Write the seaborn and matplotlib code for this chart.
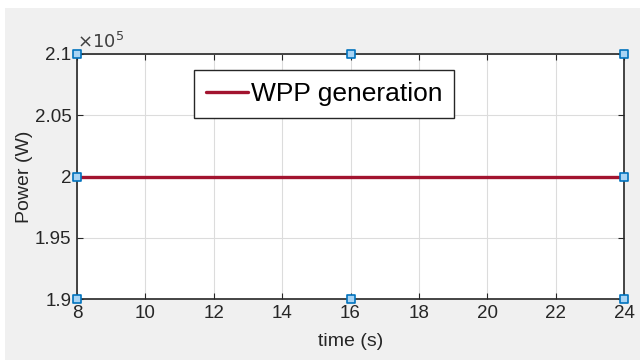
import matplotlib
matplotlib.use("Agg")
import matplotlib.pyplot as plt
import seaborn as sns
import pandas as pd
from matplotlib.ticker import FuncFormatter

time_s = [8, 12, 16, 20, 24]
power_w = [2.0e5, 2.0e5, 2.0e5, 2.0e5, 2.0e5]
x_ticks = [8, 10, 12, 14, 16, 18, 20, 22, 24]
y_ticks = [1.9e5, 1.95e5, 2.0e5, 2.05e5, 2.1e5]
handle_x = [8, 16, 24]
handle_y = [1.9e5, 2.0e5, 2.1e5]

sns.set_theme(style="whitegrid")
plt.rcParams["font.family"] = ["Liberation Sans", "DejaVu Sans"]

fig = plt.figure(figsize=(6.43, 3.6), dpi=100, facecolor="white")
fig.patches.append(plt.Rectangle((5/643, 0), 635/643, 1 - 8/360, transform=fig.transFigure,
                                 facecolor="#f0f0f0", edgecolor="none", zorder=-10))
ax = fig.add_axes([77/643, 1 - 299/360, (624 - 77)/643, (299 - 54)/360])
ax.set_facecolor("white")

df = pd.DataFrame({"time": time_s, "power": power_w})
sns.lineplot(data=df, x="time", y="power", ax=ax, color="#a2142f", linewidth=2.4,
             label="WPP generation", zorder=3)

ax.set_xlim(8, 24)
ax.set_ylim(1.9e5, 2.1e5)
ax.set_xticks(x_ticks)
ax.set_yticks(y_ticks)
ax.yaxis.set_major_formatter(FuncFormatter(lambda v, p: f"{v/1e5:g}"))
ax.grid(True, color="#dcdcdc", linewidth=0.8)
ax.tick_params(direction="in", length=4, width=0.8, color="#262626",
               labelsize=13.5, labelcolor="#262626", top=True, right=True,
               bottom=True, left=True)
ax.tick_params(axis="x", pad=4)
ax.tick_params(axis="y", pad=4)
for s in ax.spines.values():
    s.set_color("#262626")
    s.set_linewidth(1.2)

ax.set_xlabel("time (s)", fontsize=14, color="#262626", labelpad=8)
ax.set_ylabel("Power (W)", fontsize=14, color="#262626", labelpad=1)

ax.text(0.0, 1.01, r"$\times10^{5}$", transform=ax.transAxes, fontsize=13,
        color="#404040", ha="left", va="bottom")

# selection handles
hx = [handle_x[0], handle_x[1], handle_x[2], handle_x[0], handle_x[2], handle_x[0], handle_x[1], handle_x[2]]
hy = [handle_y[0], handle_y[0], handle_y[0], handle_y[1], handle_y[1], handle_y[2], handle_y[2], handle_y[2]]
ax.scatter(hx, hy, marker="s", s=36, facecolor="#a8d4f4", edgecolor="#0072bd",
           linewidth=1.2, zorder=5, clip_on=False)

leg = ax.legend(loc="upper left", bbox_to_anchor=((194 - 77)/547, 1 - (70 - 54)/245),
                fontsize=19, frameon=True, fancybox=False, handlelength=1.6,
                handletextpad=0.1, borderpad=0.45, borderaxespad=0)
leg.get_frame().set_edgecolor("#262626")
leg.get_frame().set_linewidth(1.0)
leg.get_frame().set_alpha(1)
for t in leg.get_texts():
    t.set_color("black")

fig.savefig("out.png", dpi=100, facecolor="white")
